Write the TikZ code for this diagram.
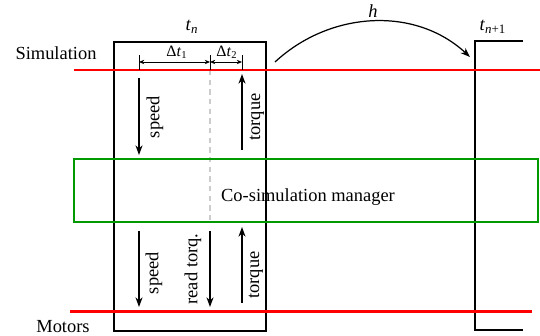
\documentclass[tikz,border=0pt]{standalone}
\usepackage{fontspec}
\setmainfont{Liberation Serif}
\usetikzlibrary{arrows.meta,positioning}

\begin{document}
\begin{tikzpicture}[x=0.02cm, y=-0.02cm, >=Stealth,
  font=\rmfamily\fontsize{10.5}{12}\selectfont,
  redline/.style={draw=red, line width=1.7pt},
  greenbox/.style={draw=green!60!black, line width=1.4pt},
  frame/.style={draw=black, line width=0.7pt},
  flow/.style={-{Stealth[length=5.5pt,width=4pt]}, line width=0.7pt},
  dimline/.style={{Stealth[length=3pt,width=2.5pt]}-{Stealth[length=3pt,width=2.5pt]}, line width=0.4pt},
  vlabel/.style={rotate=90, inner sep=1pt},
  smalllabel/.style={font=\rmfamily\fontsize{9}{10}\selectfont, inner sep=1pt}]

\useasboundingbox (0,0) rectangle (540,335);

% Macro step n and the start of step n+1
\draw[frame] (114,42) rectangle (266,331);
\draw[frame] (523,41) -- (475,41) -- (475,330) -- (523,330);
\node (tn) at (192,27) {\textit{t}\textsubscript{\textit{n}}};
\node (tnext) at (493,27) {\textit{t}\textsubscript{\textit{n}+1}};

% Split between the two sub-steps
\draw[gray!40, line width=0.7pt, dash pattern=on 3pt off 2.5pt] (210,70) -- (210,222);

% Layers
\draw[redline] (74,70) -- (540,70);
\draw[redline] (70,311) -- (532,311);
\draw[greenbox] (74,159) rectangle (538,222);
\node (sim) at (56,53) {Simulation};
\node (mot) at (63,327) {Motors};
\node (mgr) at (308,197) {Co-simulation manager};

% Sub-step lengths
\foreach \x in {139,210,242}{
  \draw[line width=0.4pt] (\x,55) -- (\x,70);
}
\coordinate (d0) at (139,62);
\coordinate (d1) at (210,62);
\coordinate (d2) at (242,62);
\draw[dimline] (d0) -- (d1);
\draw[dimline] (d1) -- (d2);
\node[smalllabel] (dt1) at (177,52) {Δ\textit{t}\textsubscript{1}};
\node[smalllabel] (dt2) at (227,52) {Δ\textit{t}\textsubscript{2}};

% Macro step size
\coordinate (hs) at (275,62);
\coordinate (he) at (470,57);
\draw[flow] (hs) .. controls (330,11) and (415,6) .. (he);
\node (h) at (373,11) {\textit{h}};

% Exchange simulation <-> manager
\coordinate (spdA) at (139,78);
\coordinate (spdB) at (139,155);
\coordinate (trqA) at (242,150);
\coordinate (trqB) at (242,74);
\draw[flow] (spdA) -- (spdB);
\draw[flow] (trqA) -- (trqB);
\node[vlabel] (spdlab) at (155,117) {speed};
\node[vlabel] (trqlab) at (257,117) {torque};

% Exchange manager <-> motors
\coordinate (mspdA) at (139,231);
\coordinate (mspdB) at (139,307);
\coordinate (readA) at (210,231);
\coordinate (readB) at (210,307);
\coordinate (mtrqA) at (242,303);
\coordinate (mtrqB) at (242,227);
\draw[flow] (mspdA) -- (mspdB);
\draw[flow] (readA) -- (readB);
\draw[flow] (mtrqA) -- (mtrqB);
\node[vlabel] (mspdlab) at (154,273) {speed};
\node[vlabel] (readlab) at (193,269) {read torq.};
\node[vlabel] (mtrqlab) at (256,275) {torque};

\end{tikzpicture}
\end{document}
